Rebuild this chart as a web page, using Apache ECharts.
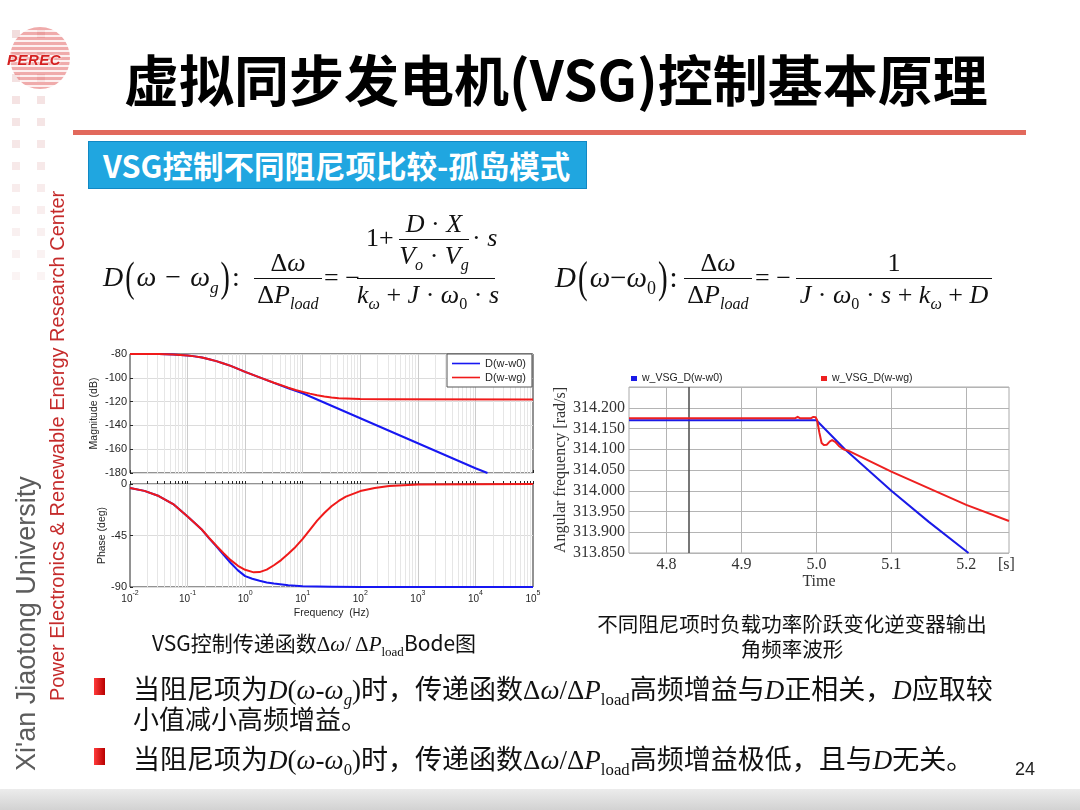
<!DOCTYPE html>
<html>
<head>
<meta charset="utf-8">
<title>VSG</title>
<script src="https://cdn.jsdelivr.net/npm/echarts@6.0.0/dist/echarts.min.js"></script>
<style>
  html, body { margin: 0; padding: 0; background: #fff; }
  #page { position: relative; width: 1080px; height: 810px; overflow: hidden; background: #fff;
          font-family: "Noto Sans CJK SC", sans-serif; color: #111; }
  #chart { position: absolute; left: 0; top: 0; width: 1080px; height: 810px; z-index: 2; }
  .a { position: absolute; white-space: nowrap; z-index: 3; line-height: 1; }
  .m { font-family: "Liberation Serif", "Times New Roman", serif; }
  i { font-style: italic; }
  sub { font-size: 0.62em; vertical-align: -0.38em; line-height: 0; }
  .par { display: inline-block; transform: scale(1, 1.5); margin: 0 2px; }
</style>
</head>
<body>
<div id="page">
  <div id="chart"></div>
</div>
<script>
// 幅频特性 (Hz, dB)
const magFreqBlue = [0.01, 0.0178, 0.0316, 0.0562, 0.1, 0.133, 0.178, 0.237, 0.316, 0.422, 0.562, 0.75, 1, 1.78, 3.16, 5.62, 10, 100, 1000, 10000, 16200];
const magBlue     = [-80, -80, -80.1, -80.4, -81.2, -82, -83, -84.4, -86, -88, -90, -92.5, -95, -99.6, -104.3, -108.8, -113, -134, -155, -176, -180];
const magFreqRed  = [0.01, 0.0178, 0.0316, 0.0562, 0.1, 0.133, 0.178, 0.237, 0.316, 0.422, 0.562, 0.75, 1, 1.78, 3.16, 5.62, 7.5, 10, 13.3, 17.8, 23.7, 31.6, 42.2, 56.2, 100, 316, 100000];
const magRed      = [-80, -80, -80.1, -80.4, -81.2, -82, -83, -84.4, -86, -88, -90, -92.5, -95, -99.6, -104.2, -108.3, -110.2, -111.8, -113.3, -114.6, -115.7, -116.6, -117.1, -117.4, -117.8, -118, -118.2];

// 相频特性 (Hz, deg)
const phFreqBlue = [0.01, 0.0178, 0.0316, 0.0562, 0.1, 0.133, 0.178, 0.237, 0.316, 0.422, 0.562, 0.75, 1, 1.33, 1.78, 2.37, 3.16, 5.62, 10, 31.6, 100, 100000];
const phBlue     = [-3.5, -6, -10.5, -17.5, -28.5, -34, -40, -47.5, -54.5, -62, -69, -75.5, -80.5, -82.8, -84.5, -86, -87, -88.5, -89.3, -89.8, -90, -90];
const phFreqRed  = [0.01, 0.0178, 0.0316, 0.0562, 0.1, 0.133, 0.178, 0.237, 0.316, 0.422, 0.562, 0.75, 1, 1.41, 1.78, 2.37, 3.16, 4.22, 5.62, 7.5, 10, 13.3, 17.8, 23.7, 31.6, 42.2, 56.2, 100, 178, 316, 1000, 100000];
const phRed      = [-3.5, -6, -10.5, -17.5, -28.5, -34, -40, -47.2, -54, -60.5, -66.5, -71.5, -75, -77.2, -77, -74.8, -71, -66.5, -61, -55, -48, -40, -32, -25.3, -19.5, -14.8, -11, -6.2, -3.5, -1.8, -0.4, 0];

// 角频率波形 (s, rad/s)
const tBlue = [4.75, 5.0, 5.038, 5.1, 5.15, 5.203];
const wBlue = [314.17, 314.17, 314.1, 314.0, 313.925, 313.85];
const tRed = [4.75, 4.972, 4.975, 4.978, 4.993, 4.996, 4.999, 5.001, 5.004, 5.007, 5.010, 5.014, 5.018, 5.021, 5.025, 5.030, 5.036, 5.043, 5.1, 5.2, 5.257];
const wRed = [314.175, 314.175, 314.178, 314.175, 314.175, 314.178, 314.177, 314.17, 314.14, 314.115, 314.110, 314.111, 314.119, 314.122, 314.118, 314.108, 314.100, 314.096, 314.046, 313.966, 313.927];

const bodeNames = ['D(w-w0)', 'D(w-wg)'];
const timeNames = ['w_VSG_D(w-w0)', 'w_VSG_D(w-wg)'];
const decades = [0.01, 0.1, 1, 10, 100, 1000, 10000, 100000];
const timeTicks = [4.8, 4.9, 5.0, 5.1, 5.2];

const SANS = '"Liberation Sans", Arial, sans-serif';
const SERIF = '"Liberation Serif", "Times New Roman", serif';
const BLUE = '#1717f2';
const RED = '#f01a1a';

// ---------- slide decoration ----------
const page = document.getElementById('page');
function put(html, css, cls) {
    const d = document.createElement('div');
    d.className = 'a' + (cls ? ' ' + cls : '');
    d.innerHTML = html;
    d.style.cssText += css;
    page.appendChild(d);
    return d;
}
function frac(num, den, x1, x2, y, fs) {
    put(num, `left:${x1}px;width:${x2 - x1}px;bottom:${810 - y + 2}px;text-align:center;font-size:${fs}px`, 'm');
    put('', `left:${x1}px;width:${x2 - x1}px;top:${y}px;height:1.4px;background:#111`);
    put(den, `left:${x1}px;width:${x2 - x1}px;top:${y + 4}px;text-align:center;font-size:${fs}px`, 'm');
}

// left column squares
for (let r = 0; r < 12; r++) {
    for (const x of [12, 37]) {
        put('', `left:${x}px;top:${30 + r * 22}px;width:8px;height:8px;background:#efd4d4;opacity:${(0.8 - r * 0.05).toFixed(2)};z-index:0`);
    }
}
// logo
put('', 'left:10px;top:27px;width:60px;height:62px;border-radius:50%;z-index:1;' +
    'background:repeating-linear-gradient(to bottom,#e57373 0 3px,#fbe6e6 3px 5px);opacity:0.6');
put('PEREC', 'left:7px;top:51px;font:bold italic 15px ' + SANS + ';color:#d42020;letter-spacing:0.5px;' +
    'text-shadow:0 0 2px #fff,0 0 2px #fff');

// vertical texts
function vtext(txt, cx, bottomY, fs, color) {
    const lh = Math.round(fs * 1.2);
    put(txt, `left:${cx - lh / 2}px;top:${bottomY}px;transform-origin:0 0;transform:rotate(-90deg);` +
        `line-height:${lh}px;font:${fs}px ${SANS};color:${color}`);
}
vtext("Xi'an Jiaotong University", 27, 771, 27, '#5c5c5c');
vtext('Power Electronics &amp; Renewable Energy Research Center', 58, 701, 20, '#c52b2b');

// title and header
put('虚拟同步发电机(VSG)控制基本原理', 'left:124px;top:50px;font-size:55px;font-weight:bold;color:#000');
put('', 'left:73px;top:130px;width:953px;height:5px;background:#e2695c');
put('VSG控制不同阻尼项比较-孤岛模式', 'left:88px;top:141px;width:483px;height:46px;padding-left:14px;' +
    'line-height:46px;background:#20a6e0;border:1px solid #1188c4;color:#fff;font-size:30.5px;font-weight:bold');

// formula, left
put('<i>D</i><span class="par">(</span><i>ω</i> − <i>ω</i><sub><i>g</i></sub><span class="par">)</span>:',
    'left:103px;top:263px;font-size:28px;word-spacing:2px', 'm');
frac('Δ<i>ω</i>', 'Δ<i>P</i><sub><i>load</i></sub>', 254, 322, 278, 26);
put('= −', 'left:324px;top:265px;font-size:26px', 'm');
frac('', '<i>k</i><sub><i>ω</i></sub> + <i>J</i> · <i>ω</i><sub>0</sub> · <i>s</i>', 357, 495, 278, 26);
put('1+', 'left:366px;top:225px;font-size:26px', 'm');
frac('<i>D</i> · <i>X</i>', '<i>V</i><sub><i>o</i></sub> · <i>V</i><sub><i>g</i></sub>', 399, 469, 239, 26);
put('· <i>s</i>', 'left:472px;top:225px;font-size:26px', 'm');

// formula, right
put('<i>D</i><span class="par">(</span><i>ω</i>−<i>ω</i><sub>0</sub><span class="par">)</span>:',
    'left:555px;top:263px;font-size:29px', 'm');
frac('Δ<i>ω</i>', 'Δ<i>P</i><sub><i>load</i></sub>', 684, 752, 278, 26);
put('= −', 'left:755px;top:265px;font-size:26px', 'm');
frac('1', '<i>J</i> · <i>ω</i><sub>0</sub> · <i>s</i> + <i>k</i><sub><i>ω</i></sub> + <i>D</i>', 796, 992, 278, 26);

// captions
put('VSG控制传递函数<span class="m">Δ<i>ω</i>/ Δ<i>P</i><sub>load</sub></span>Bode图',
    'left:152px;top:632px;font-size:21px;color:#111');
put('不同阻尼项时负载功率阶跃变化逆变器输出<br>角频率波形',
    'left:582px;top:611px;width:420px;text-align:center;font-size:20.5px;line-height:25px;color:#111');
put('[s]', 'left:998px;top:555px;font:16px ' + SERIF + ';color:#333');

// bullets
const bulletCss = 'width:11px;height:17px;background:linear-gradient(to right,#ff3a3a,#b80000);';
put('', 'left:94px;top:678px;' + bulletCss);
put('', 'left:94px;top:748px;' + bulletCss);
put('当阻尼项为<i class="m">D</i><span class="m">(<i>ω</i>-<i>ω</i><sub><i>g</i></sub>)</span>时，传递函数' +
    '<span class="m">Δ<i>ω</i>/Δ<i>P</i><sub>load</sub></span>高频增益与<i class="m">D</i>正相关，<i class="m">D</i>应取较',
    'left:133px;top:674px;font-size:27px;color:#111');
put('小值减小高频增益。', 'left:133px;top:705px;font-size:26px;color:#111');
put('当阻尼项为<i class="m">D</i><span class="m">(<i>ω</i>-<i>ω</i><sub>0</sub>)</span>时，传递函数' +
    '<span class="m">Δ<i>ω</i>/Δ<i>P</i><sub>load</sub></span>高频增益极低，且与<i class="m">D</i>无关。',
    'left:133px;top:744px;font-size:27px;color:#111');
put('24', 'left:1015px;top:759px;font:18px ' + SANS + ';color:#222');
put('', 'left:0;top:789px;width:1080px;height:21px;z-index:0;background:linear-gradient(to bottom,#ececec,#d2d2d2)');

// ---------- charts ----------
const minorF = [];
for (let e = -2; e < 5; e++) {
    for (let k = 2; k < 10; k++) minorF.push(+(k * Math.pow(10, e)).toPrecision(3));
}
const bodeGridLines = minorF.map(v => ({ xAxis: v, lineStyle: { color: '#e6e6e6' } }))
    .concat(decades.slice(1, -1).map(v => ({ xAxis: v, lineStyle: { color: '#cccccc' } })));
const timeGridLines = timeTicks.map(v => ({ xAxis: v, lineStyle: { color: '#b4b4b4', width: 1 } }))
    .concat([{ xAxis: 4.835, lineStyle: { color: '#555', width: 1.6 } }]);

function gridSeries(idx, lines) {
    return {
        type: 'line', data: [], xAxisIndex: idx, yAxisIndex: idx, z: 1, silent: true,
        markLine: {
            z: 1, silent: true, symbol: ['none', 'none'], label: { show: false }, animation: false,
            lineStyle: { type: 'solid', width: 1 }, data: lines
        }
    };
}
function curve(name, idx, xs, ys, color) {
    return {
        name, type: 'line', xAxisIndex: idx, yAxisIndex: idx, z: 3,
        data: xs.map((x, i) => [x, ys[i]]),
        showSymbol: false, smooth: false,
        color, itemStyle: { color }, lineStyle: { color, width: 2, join: 'round' }
    };
}
function logAxis(idx, withLabels) {
    return {
        gridIndex: idx, type: 'log', logBase: 10, min: 0.01, max: 100000,
        axisLine: { show: false },
        axisTick: { show: true, inside: true, length: 3, customValues: decades.concat(minorF),
                    lineStyle: { color: '#262626' } },
        splitLine: { show: false },
        axisLabel: withLabels ? {
            show: true, customValues: decades, margin: 3,
            formatter: v => '{b|10}{s|' + Math.round(Math.log10(v)) + '}',
            rich: {
                b: { fontSize: 10, fontFamily: SANS, color: '#262626', lineHeight: 14, verticalAlign: 'bottom' },
                s: { fontSize: 7, fontFamily: SANS, color: '#262626', lineHeight: 14, verticalAlign: 'top' }
            }
        } : { show: false },
        name: withLabels ? 'Frequency  (Hz)' : '', nameLocation: 'middle', nameGap: 21,
        nameTextStyle: { fontSize: 10.5, fontFamily: SANS, color: '#262626' }
    };
}
function bodeY(idx, min, max, interval, name, gap) {
    return {
        gridIndex: idx, type: 'value', min, max, interval,
        axisLine: { show: false },
        axisTick: { show: true, inside: true, length: 3, lineStyle: { color: '#262626' } },
        axisLabel: { fontSize: 11, fontFamily: SANS, color: '#262626', margin: 3 },
        splitLine: { show: true, lineStyle: { color: '#dcdcdc', width: 1 } },
        name, nameLocation: 'middle', nameGap: gap,
        nameTextStyle: { fontSize: 10.5, fontFamily: SANS, color: '#262626' }
    };
}

const chart = echarts.init(document.getElementById('chart'));
chart.setOption({
    animation: false,
    backgroundColor: 'transparent',
    grid: [
        { left: 130, top: 354, width: 403, height: 119, show: true, backgroundColor: '#fff',
          borderColor: '#262626', borderWidth: 1, outerBoundsMode: 'none' },
        { left: 130, top: 484, width: 403, height: 103, show: true, backgroundColor: '#fff',
          borderColor: '#262626', borderWidth: 1, outerBoundsMode: 'none' },
        { left: 629, top: 387, width: 380, height: 166, show: true, backgroundColor: '#fff',
          borderColor: '#aaaaaa', borderWidth: 1, outerBoundsMode: 'none' }
    ],
    xAxis: [
        logAxis(0, false),
        logAxis(1, true),
        {
            gridIndex: 2, type: 'value', min: 4.75, max: 5.257,
            axisLine: { show: false }, axisTick: { show: false }, splitLine: { show: false },
            axisLabel: { customValues: timeTicks, formatter: v => v.toFixed(1), margin: 4,
                         fontSize: 16, fontFamily: SERIF, color: '#333' },
            name: 'Time', nameLocation: 'middle', nameGap: 18,
            nameTextStyle: { fontSize: 16, fontFamily: SERIF, color: '#333' }
        }
    ],
    yAxis: [
        bodeY(0, -180, -80, 20, 'Magnitude (dB)', 30),
        bodeY(1, -90, 0, 45, 'Phase (deg)', 18),
        {
            gridIndex: 2, type: 'value', min: 313.85, max: 314.25, interval: 0.05,
            axisLine: { show: false }, axisTick: { show: false },
            axisLabel: { formatter: v => (v > 314.22 ? '' : v.toFixed(3)), margin: 4,
                         fontSize: 16, fontFamily: SERIF, color: '#333' },
            splitLine: { show: true, lineStyle: { color: '#b4b4b4', width: 1 } },
            name: 'Angular frequency [rad/s]', nameLocation: 'middle', nameGap: 58,
            nameTextStyle: { fontSize: 16, fontFamily: SERIF, color: '#333' }
        }
    ],
    legend: [
        { data: bodeNames, left: 447, top: 354, orient: 'vertical', icon: 'rect', z: 10,
          itemWidth: 28, itemHeight: 1.6, itemGap: 3, padding: [4, 6, 4, 5],
          backgroundColor: '#fff', borderColor: '#555', borderWidth: 1, selectedMode: false,
          textStyle: { fontSize: 11, fontFamily: SANS, color: '#262626' } },
        { data: [timeNames[0]], left: 631, top: 373, icon: 'rect', itemWidth: 6, itemHeight: 5,
          padding: 0, selectedMode: false,
          textStyle: { fontSize: 10.5, fontFamily: SANS, color: '#222' } },
        { data: [timeNames[1]], left: 821, top: 373, icon: 'rect', itemWidth: 6, itemHeight: 5,
          padding: 0, selectedMode: false,
          textStyle: { fontSize: 10.5, fontFamily: SANS, color: '#222' } }
    ],
    series: [
        gridSeries(0, bodeGridLines),
        gridSeries(1, bodeGridLines),
        gridSeries(2, timeGridLines),
        curve(bodeNames[0], 0, magFreqBlue, magBlue, BLUE),
        curve(bodeNames[1], 0, magFreqRed, magRed, RED),
        curve(bodeNames[0], 1, phFreqBlue, phBlue, BLUE),
        curve(bodeNames[1], 1, phFreqRed, phRed, RED),
        curve(timeNames[0], 2, tBlue, wBlue, '#1a1ae8'),
        curve(timeNames[1], 2, tRed, wRed, '#ee2020')
    ]
});
</script>
</body>
</html>
